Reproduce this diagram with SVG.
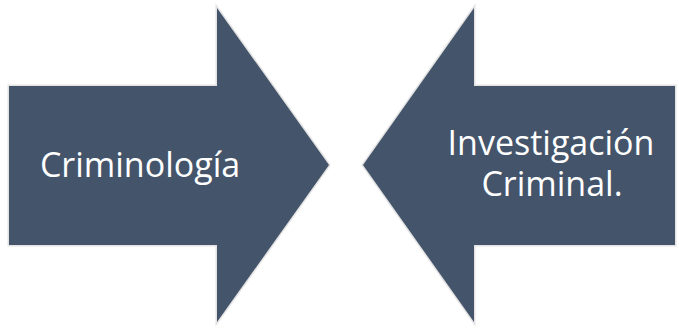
<svg xmlns="http://www.w3.org/2000/svg" width="679" height="328" viewBox="0 0 679 328">
  <style>
    .arrow { fill: #44546A; stroke: #E3E3E3; stroke-width: 3; paint-order: stroke; stroke-linejoin: miter; }
    .label { font-family: "Open Sans", "Liberation Sans", sans-serif; font-size: 34px; fill: #FFFFFF; text-anchor: middle; }
  </style>
  <rect width="679" height="328" fill="#FFFFFF"/>
  <g id="connectors"></g>
  <g id="node-criminologia">
    <path class="arrow" d="M9,86 H217 V8 L329,165 L217,322 V245 H9 Z"/>
    <text class="label" x="140" y="177">Criminología</text>
  </g>
  <g id="node-investigacion">
    <path class="arrow" d="M675,86 H474 V8 L363,165 L474,322 V245 H675 Z"/>
    <text class="label" x="551" y="155">Investigación</text>
    <text class="label" x="552" y="196">Criminal.</text>
  </g>
</svg>
